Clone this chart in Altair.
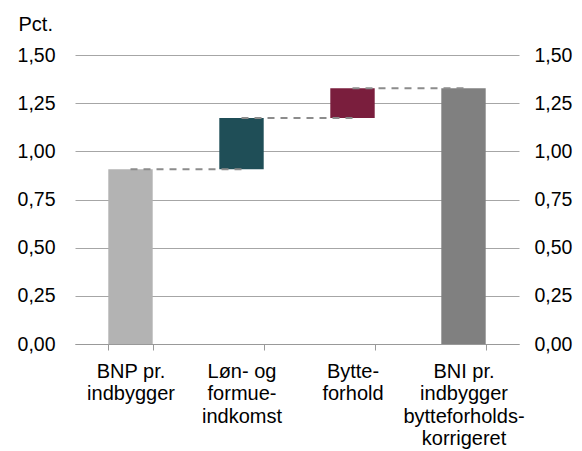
import altair as alt
import pandas as pd

categories = ["BNP pr. indbygger", "Løn- og formue-indkomst", "Bytte-forhold", "BNI pr. indbygger bytteforholds-korrigeret"]
label_lines = [["BNP pr.", "indbygger"], ["Løn- og", "formue-", "indkomst"], ["Bytte-", "forhold"], ["BNI pr.", "indbygger", "bytteforholds-", "korrigeret"]]
bar_start = [0.0, 0.907, 1.173, 0.0]
bar_end = [0.907, 1.173, 1.328, 1.328]
bar_colors = ["#b3b3b3", "#1f4e57", "#7a1e3d", "#808080"]

bars = pd.DataFrame({"cat": categories, "start": bar_start, "end": bar_end, "color": bar_colors})
conn = pd.DataFrame({
    "cat": categories[:-1],
    "next": categories[1:],
    "level": bar_end[:-1],
})

label_map = {c: "|".join(l) for c, l in zip(categories, label_lines)}
map_lit = "{" + ",".join(f"'{c}': '{v}'" for c, v in label_map.items()) + "}"
label_expr = f"{map_lit}[datum.label] ? split({map_lit}[datum.label], '|') : ''"

FONT = "Liberation Sans"
FS = 20
YFS = 19.5
num_fmt = "replace(format(datum.value, '.2f'), '.', ',')"

x_scale = alt.Scale(domain=categories, paddingInner=0.6, paddingOuter=0.3)
y_scale = alt.Scale(domain=[0, 1.5])

x_enc = alt.X("cat:N", scale=x_scale, sort=categories, title=None,
              axis=alt.Axis(labelExpr=label_expr, labelAngle=0, tickBand="extent",
                            ticks=True, tickSize=6, tickColor="#999999", domainColor="#999999",
                            labelFont=FONT, labelFontSize=FS, labelColor="#000000",
                            labelLineHeight=22.6, labelPadding=11, labelBaseline="top", grid=False))

bar_layer = alt.Chart(bars).mark_bar().encode(
    x=x_enc,
    y=alt.Y("start:Q", scale=y_scale, title="Pct.",
            axis=alt.Axis(values=[0, 0.25, 0.5, 0.75, 1.0, 1.25, 1.5], labelExpr=num_fmt,
                          ticks=False, tickSize=0, domain=False, grid=True, gridColor="#a6a6a6",
                          gridWidth=1, labelPadding=20, labelFont=FONT, labelFontSize=YFS,
                          labelColor="#000000", titleAngle=0, titleAlign="left",
                          titleBaseline="alphabetic", titleX=-57, titleY=-25,
                          titleFont=FONT, titleFontSize=FS, titleFontWeight="normal",
                          titleColor="#000000")),
    y2="end:Q",
    color=alt.Color("color:N", scale=None),
)

right_axis = alt.Chart(bars).mark_bar(opacity=0).encode(
    x=alt.X("cat:N", scale=x_scale, sort=categories, title=None),
    y=alt.Y("end:Q", scale=y_scale, title=None,
            axis=alt.Axis(orient="right", values=[0, 0.25, 0.5, 0.75, 1.0, 1.25, 1.5], labelExpr=num_fmt,
                          ticks=False, tickSize=0, domain=False, grid=False, labelPadding=15,
                          labelFont=FONT, labelFontSize=YFS, labelColor="#000000")),
)

conn_layer = alt.Chart(conn).mark_rule(color="#8c8c8c", strokeWidth=2, strokeDash=[7, 6]).encode(
    x=alt.X("cat:N", scale=x_scale, sort=categories, title=None),
    x2="next:N",
    y=alt.Y("level:Q", scale=y_scale, axis=None),
)

chart = alt.layer(bar_layer, right_axis, conn_layer).resolve_scale(y="independent").properties(
    width=444, height=289,
    autosize=alt.AutoSizeParams(type="none"),
    padding={"left": 67, "top": 47, "right": 55, "bottom": 106},
).configure_view(stroke=None)

chart.save("out.html", embed_options={"renderer": "svg", "actions": False})
